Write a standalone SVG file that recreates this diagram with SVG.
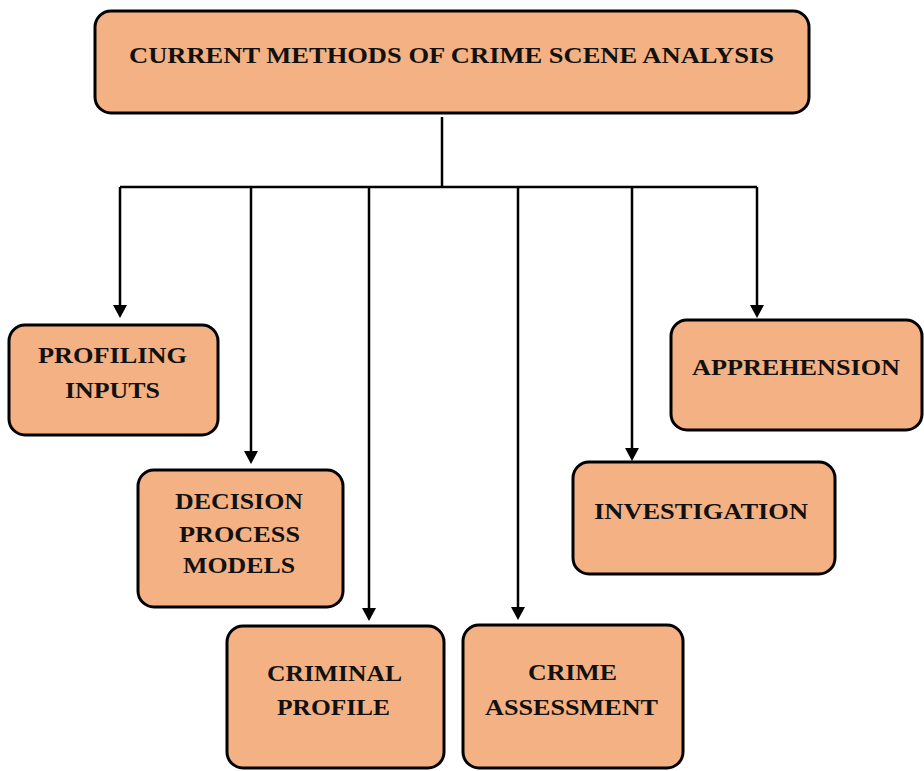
<svg xmlns="http://www.w3.org/2000/svg" width="924" height="771" viewBox="0 0 924 771">
<style>
.box{fill:#F4B183;stroke:#000;stroke-width:3}
.lbl{font-family:"Liberation Serif","Times New Roman",serif;font-weight:bold;font-size:24px;fill:#111;text-anchor:middle}
.ln{fill:none;stroke:#000;stroke-width:2.5}
.ah{fill:#000}
</style>
<rect width="924" height="771" fill="#fff"/>
<g id="connectors">
<path class="ln" d="M442,117 V187"/>
<path class="ln" d="M120,187 H757"/>
<path class="ln" d="M120,187 V305"/>
<path class="ln" d="M251,187 V451"/>
<path class="ln" d="M369,187 V608"/>
<path class="ln" d="M518,187 V607"/>
<path class="ln" d="M632,187 V448"/>
<path class="ln" d="M757,187 V305"/>
<path class="ah" d="M113,305 L127,305 L120,318 Z"/>
<path class="ah" d="M244,451 L258,451 L251,464 Z"/>
<path class="ah" d="M362,608 L376,608 L369,621 Z"/>
<path class="ah" d="M511,607 L525,607 L518,620 Z"/>
<path class="ah" d="M625,448 L639,448 L632,461 Z"/>
<path class="ah" d="M750,305 L764,305 L757,318 Z"/>
</g>
<g id="node-root">
<rect class="box" x="95" y="11" width="714" height="102" rx="16"/>
<text class="lbl" x="451.5" y="63" textLength="645" lengthAdjust="spacingAndGlyphs">CURRENT METHODS OF CRIME SCENE ANALYSIS</text>
</g>
<g id="node-profiling">
<rect class="box" x="9" y="325" width="209" height="110" rx="16"/>
<text class="lbl" x="112.5" y="363" textLength="149" lengthAdjust="spacingAndGlyphs">PROFILING</text>
<text class="lbl" x="112.5" y="398" textLength="95" lengthAdjust="spacingAndGlyphs">INPUTS</text>
</g>
<g id="node-decision">
<rect class="box" x="138" y="470" width="205" height="137" rx="16"/>
<text class="lbl" x="239" y="509" textLength="128" lengthAdjust="spacingAndGlyphs">DECISION</text>
<text class="lbl" x="239.5" y="542" textLength="121" lengthAdjust="spacingAndGlyphs">PROCESS</text>
<text class="lbl" x="239" y="573" textLength="112" lengthAdjust="spacingAndGlyphs">MODELS</text>
</g>
<g id="node-criminal">
<rect class="box" x="227" y="626" width="217" height="142" rx="16"/>
<text class="lbl" x="334.5" y="681" textLength="135" lengthAdjust="spacingAndGlyphs">CRIMINAL</text>
<text class="lbl" x="333.5" y="715" textLength="113" lengthAdjust="spacingAndGlyphs">PROFILE</text>
</g>
<g id="node-crime">
<rect class="box" x="463" y="625" width="220" height="143" rx="16"/>
<text class="lbl" x="572.5" y="680" textLength="89" lengthAdjust="spacingAndGlyphs">CRIME</text>
<text class="lbl" x="571.5" y="715" textLength="173" lengthAdjust="spacingAndGlyphs">ASSESSMENT</text>
</g>
<g id="node-investigation">
<rect class="box" x="573" y="462" width="262" height="112" rx="16"/>
<text class="lbl" x="701" y="519" textLength="214" lengthAdjust="spacingAndGlyphs">INVESTIGATION</text>
</g>
<g id="node-apprehension">
<rect class="box" x="671" y="320" width="251" height="110" rx="16"/>
<text class="lbl" x="796" y="375" textLength="208" lengthAdjust="spacingAndGlyphs">APPREHENSION</text>
</g>
</svg>
